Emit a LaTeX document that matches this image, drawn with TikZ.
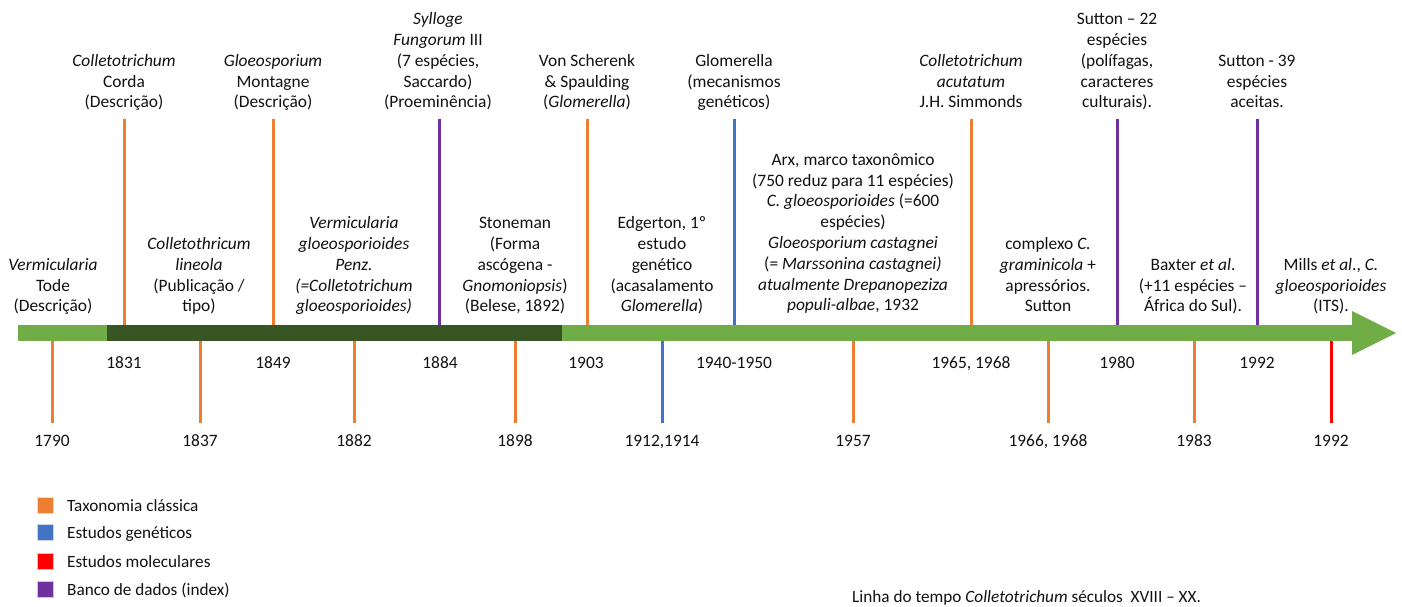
\documentclass[tikz,border=0pt]{standalone}
\usepackage{fontspec}
\setmainfont{Carlito}
\definecolor{tOrange}{HTML}{ED7D31}
\definecolor{tBlue}{HTML}{4472C4}
\definecolor{tRed}{HTML}{FF0000}
\definecolor{tPurple}{HTML}{7030A0}
\definecolor{lGreen}{HTML}{70AD47}
\definecolor{dGreen}{HTML}{375623}
\definecolor{txt}{HTML}{111111}
\begin{document}
\begin{tikzpicture}[x=1pt,y=-1pt,
  lab/.style={align=center,inner sep=0pt,font=\fontsize{17.4}{20.8}\selectfont,text depth=4pt,anchor=south,text=txt},
  yr/.style={inner sep=0pt,font=\fontsize{17.4}{20}\selectfont,anchor=base,text=txt},
  tickline/.style={line width=3pt},
  legsq/.style={minimum size=16pt,inner sep=0pt,draw=white!70!#1,fill=#1,line width=0.6pt},
  legtxt/.style={inner sep=0pt,font=\fontsize{17.2}{20}\selectfont,anchor=base west,text=txt}]
\useasboundingbox (0,0) rectangle (1402,607);
% timeline bar
\fill[lGreen] (18,325) rectangle (1352,341);
\fill[lGreen] (1352,311) -- (1396,333) -- (1352,355) -- cycle;
\fill[dGreen] (107,325) rectangle (562,341);
% ticks above
\foreach \x/\c in {124/tOrange,273/tOrange,439/tPurple,587/tOrange,734/tBlue,971/tOrange,1117/tPurple,1257/tPurple}
  \draw[tickline,\c] (\x,119) -- (\x,325);
% ticks below
\foreach \x/\c in {52/tOrange,200/tOrange,354/tOrange,515/tOrange,662/tBlue,853/tOrange,1048/tOrange,1194/tOrange,1331/tRed}
  \draw[tickline,\c] (\x,341) -- (\x,423);
% top labels
\node[lab] (u1) at (124,112) {\textit{Colletotrichum}\\Corda\\(Descrição)};
\node[lab] (u2) at (273,112) {\textit{Gloeosporium}\\Montagne\\(Descrição)};
\node[lab] (u3) at (438,112) {\textit{Sylloge}\\\textit{Fungorum} III\\(7 espécies,\\Saccardo)\\(Proeminência)};
\node[lab] (u4) at (587,112) {Von Scherenk\\\& Spaulding\\(\textit{Glomerella})};
\node[lab] (u5) at (734,112) {Glomerella\\(mecanismos\\genéticos)};
\node[lab] (u6) at (971,112) {\textit{Colletotrichum}\\\textit{acutatum}\\J.H. Simmonds};
\node[lab] (u7) at (1117,112) {Sutton – 22\\espécies\\(polífagas,\\caracteres\\culturais).};
\node[lab] (u8) at (1257,112) {Sutton - 39\\espécies\\aceitas.};
% lower labels (above bar)
\node[lab] (l1) at (53,316) {\textit{Vermicularia}\\Tode\\(Descrição)};
\node[lab] (l2) at (199,316) {\textit{Colletothricum}\\\textit{lineola}\\(Publicação /\\tipo)};
\node[lab] (l3) at (354,316) {\textit{Vermicularia}\\\textit{gloeosporioides}\\\textit{Penz.}\\\textit{(=Colletotrichum}\\\textit{gloeosporioides)}};
\node[lab] (l4) at (515,316) {Stoneman\\(Forma\\ascógena -\\\textit{Gnomoniopsis})\\(Belese, 1892)};
\node[lab] (l5) at (662,316) {Edgerton, 1º\\estudo\\genético\\(acasalamento\\\textit{Glomerella})};
\node[lab] (l6) at (853,315) {Arx, marco taxonômico\\(750 reduz para 11 espécies)\\\textit{C. gloeosporioides} (=600\\espécies)\\\textit{Gloeosporium castagnei}\\(= \textit{Marssonina castagnei)}\\\textit{atualmente Drepanopeziza}\\\textit{populi-albae}, 1932};
\node[lab] (l7) at (1048,316) {complexo \textit{C.}\\\textit{graminicola} +\\apressórios.\\Sutton};
\node[lab] (l8) at (1193,316) {Baxter \textit{et al}.\\(+11 espécies –\\África do Sul).};
\node[lab] (l9) at (1331,316) {Mills \textit{et al}., \textit{C.}\\\textit{gloeosporioides}\\(ITS).};
% years row 1
\node[yr] (y1) at (124,368) {1831};
\node[yr] (y2) at (273,368) {1849};
\node[yr] (y3) at (440,368) {1884};
\node[yr] (y4) at (586,368) {1903};
\node[yr] (y5) at (734,368) {1940-1950};
\node[yr] (y6) at (971,368) {1965, 1968};
\node[yr] (y7) at (1117,368) {1980};
\node[yr] (y8) at (1257,368) {1992};
% years row 2
\node[yr] (z1) at (52,446) {1790};
\node[yr] (z2) at (200,446) {1837};
\node[yr] (z3) at (354,446) {1882};
\node[yr] (z4) at (515,446) {1898};
\node[yr] (z5) at (662,446) {1912,1914};
\node[yr] (z6) at (853,446) {1957};
\node[yr] (z7) at (1048,446) {1966, 1968};
\node[yr] (z8) at (1194,446) {1983};
\node[yr] (z9) at (1331,446) {1992};
% legend
\node[legsq=tOrange] (s1) at (45,505) {};
\node[legsq=tBlue] (s2) at (45,532) {};
\node[legsq=tRed] (s3) at (45,561) {};
\node[legsq=tPurple] (s4) at (45,589) {};
\node[legtxt] (t1) at (67,511) {Taxonomia clássica};
\node[legtxt] (t2) at (67,538) {Estudos genéticos};
\node[legtxt] (t3) at (67,567) {Estudos moleculares};
\node[legtxt] (t4) at (67,595) {Banco de dados (index)};
% caption
\node[legtxt] (cap) at (852,602) {Linha do tempo \textit{Colletotrichum} séculos\ \ XVIII – XX.};
\end{tikzpicture}
\end{document}
